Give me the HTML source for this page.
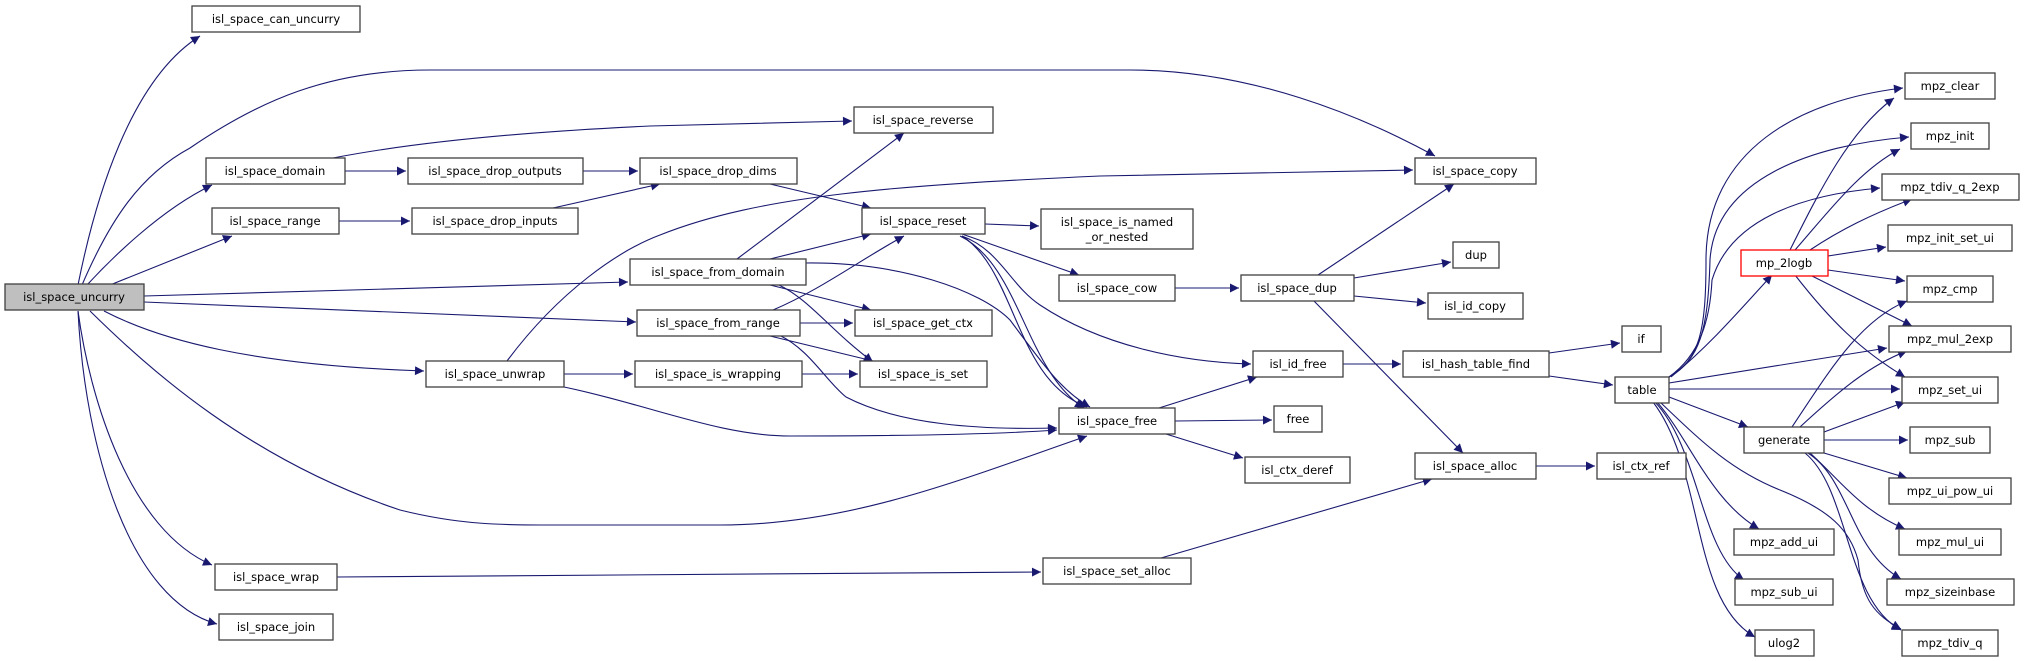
<!DOCTYPE html>
<html><head><meta charset="utf-8"><style>
html,body{margin:0;padding:0;background:#fff;}
svg{display:block;}
text{font-family:"DejaVu Sans","Liberation Sans",sans-serif;font-size:11.5px;fill:#000;text-anchor:middle;}
.n{fill:#fff;stroke:#404040;stroke-width:1.3;}
.e{fill:none;stroke:#191970;stroke-width:1.1;marker-end:url(#a);}
</style></head><body>
<svg width="2024" height="661" viewBox="0 0 2024 661" xmlns="http://www.w3.org/2000/svg">
<defs><marker id="a" viewBox="0 0 10 10" refX="10" refY="5" markerWidth="11" markerHeight="9" markerUnits="userSpaceOnUse" orient="auto"><path d="M0,0 L10,5 L0,10 z" fill="#191970"/></marker></defs>
<g>
<path class="e" d="M78,285 C95,200 130,80 200,36"/>
<path class="e" d="M82,285 C110,220 140,175 190,148 C260,100 330,70 430,70 L1130,70 C1250,70 1360,115 1435,156"/>
<path class="e" d="M87,285 C110,260 160,210 212,185"/>
<path class="e" d="M110,285 L232,236"/>
<path class="e" d="M144,296 L628,282"/>
<path class="e" d="M144,302 L636,322"/>
<path class="e" d="M104,311 C160,340 250,365 424,371"/>
<path class="e" d="M90,311 C150,370 250,460 400,510 C460,525 500,525 560,525 L720,525 C850,525 960,480 1087,436"/>
<path class="e" d="M78,311 C90,400 130,530 212,565"/>
<path class="e" d="M78,311 C85,450 130,600 217,624"/>
<path class="e" d="M345,171 L406,171"/>
<path class="e" d="M333,158 C400,145 500,133 650,126 L852,121"/>
<path class="e" d="M583,171 L638,171"/>
<path class="e" d="M553,208 L660,184"/>
<path class="e" d="M339,221 L410,221"/>
<path class="e" d="M770,184 L871,208"/>
<path class="e" d="M507,361 C560,290 620,250 660,235 C760,195 900,185 1100,176 L1413,170"/>
<path class="e" d="M564,374 L633,374"/>
<path class="e" d="M564,387 C650,405 720,436 790,436 C900,436 1000,434 1057,430"/>
<path class="e" d="M737,259 L904,133"/>
<path class="e" d="M770,259 L871,234"/>
<path class="e" d="M770,285 L871,310"/>
<path class="e" d="M779,285 C810,300 830,330 873,362"/>
<path class="e" d="M806,263 C900,262 980,290 1010,320 C1040,360 1060,390 1090,407"/>
<path class="e" d="M773,310 C820,290 860,260 904,236"/>
<path class="e" d="M800,323 L853,323"/>
<path class="e" d="M770,336 L873,361"/>
<path class="e" d="M779,335 C810,350 825,380 846,397 C900,425 980,430 1057,428"/>
<path class="e" d="M802,374 L858,374"/>
<path class="e" d="M985,224 L1039,226"/>
<path class="e" d="M962,234 L1079,275"/>
<path class="e" d="M962,236 C1016,270 1015,380 1087,407"/>
<path class="e" d="M960,236 C1020,265 1025,370 1084,408"/>
<path class="e" d="M962,236 C1000,250 1010,285 1040,305 C1100,345 1180,362 1251,364"/>
<path class="e" d="M1175,288 L1239,288"/>
<path class="e" d="M1318,275 L1454,184"/>
<path class="e" d="M1354,278 L1451,262"/>
<path class="e" d="M1354,296 L1426,303"/>
<path class="e" d="M1313,300 L1463,453"/>
<path class="e" d="M1343,364 L1401,364"/>
<path class="e" d="M1159,408 L1257,377"/>
<path class="e" d="M1175,421 L1272,420"/>
<path class="e" d="M1166,434 L1243,458"/>
<path class="e" d="M1161,558 L1432,479"/>
<path class="e" d="M337,577 L1041,572"/>
<path class="e" d="M1536,466 L1595,466"/>
<path class="e" d="M1549,353 L1620,343"/>
<path class="e" d="M1549,376 L1613,385"/>
<path class="e" d="M1671,377 C1710,345 1740,310 1772,275"/>
<path class="e" d="M1669,377 C1700,360 1706,330 1706,260 C1706,150 1800,100 1903,88"/>
<path class="e" d="M1669,377 C1700,360 1708,330 1710,260 C1715,180 1810,145 1909,137"/>
<path class="e" d="M1669,377 C1700,355 1710,320 1712,280 C1730,220 1800,195 1880,188"/>
<path class="e" d="M1669,383 L1887,348"/>
<path class="e" d="M1669,389 L1900,389"/>
<path class="e" d="M1669,397 L1748,427"/>
<path class="e" d="M1657,402 C1690,440 1710,500 1759,529"/>
<path class="e" d="M1655,402 C1700,450 1700,550 1744,580"/>
<path class="e" d="M1653,402 C1705,470 1690,600 1755,637"/>
<path class="e" d="M1660,402 C1700,440 1730,470 1780,490 C1830,510 1850,530 1858,560 C1862,600 1875,615 1901,629"/>
<path class="e" d="M1790,250 C1820,190 1850,130 1894,98"/>
<path class="e" d="M1795,250 C1830,210 1860,170 1900,149"/>
<path class="e" d="M1810,250 C1840,230 1870,215 1912,199"/>
<path class="e" d="M1828,256 L1886,247"/>
<path class="e" d="M1828,270 L1905,281"/>
<path class="e" d="M1810,275 L1912,326"/>
<path class="e" d="M1795,275 C1830,320 1860,350 1905,377"/>
<path class="e" d="M1792,427 C1830,370 1860,320 1907,301"/>
<path class="e" d="M1800,427 C1840,390 1870,365 1907,351"/>
<path class="e" d="M1824,432 L1905,402"/>
<path class="e" d="M1824,440 L1908,440"/>
<path class="e" d="M1824,453 L1907,478"/>
<path class="e" d="M1810,453 C1840,480 1860,510 1905,529"/>
<path class="e" d="M1808,453 C1850,480 1850,550 1901,579"/>
<path class="e" d="M1805,453 C1850,490 1845,600 1901,630"/>
</g>
<g>
<rect x="5" y="284" width="139" height="26" fill="#bfbfbf" stroke="#404040" stroke-width="1.3"/><text x="74" y="301">isl_space_uncurry</text>
<rect class="n" x="192" y="6" width="168" height="26"/><text x="276" y="23">isl_space_can_uncurry</text>
<rect class="n" x="206" y="158" width="139" height="26"/><text x="275" y="175">isl_space_domain</text>
<rect class="n" x="408" y="158" width="175" height="26"/><text x="495" y="175">isl_space_drop_outputs</text>
<rect class="n" x="640" y="158" width="157" height="26"/><text x="718" y="175">isl_space_drop_dims</text>
<rect class="n" x="212" y="208" width="127" height="26"/><text x="275" y="225">isl_space_range</text>
<rect class="n" x="412" y="208" width="166" height="26"/><text x="495" y="225">isl_space_drop_inputs</text>
<rect class="n" x="630" y="259" width="176" height="26"/><text x="718" y="276">isl_space_from_domain</text>
<rect class="n" x="637" y="310" width="163" height="26"/><text x="718" y="327">isl_space_from_range</text>
<rect class="n" x="426" y="361" width="138" height="26"/><text x="495" y="378">isl_space_unwrap</text>
<rect class="n" x="635" y="361" width="167" height="26"/><text x="718" y="378">isl_space_is_wrapping</text>
<rect class="n" x="215" y="564" width="122" height="26"/><text x="276" y="581">isl_space_wrap</text>
<rect class="n" x="219" y="614" width="114" height="26"/><text x="276" y="631">isl_space_join</text>
<rect class="n" x="854" y="107" width="139" height="26"/><text x="923" y="124">isl_space_reverse</text>
<rect class="n" x="862" y="208" width="123" height="26"/><text x="923" y="225">isl_space_reset</text>
<rect class="n" x="1041" y="209" width="152" height="40"/><text x="1117" y="226">isl_space_is_named</text><text x="1117" y="241">_or_nested</text>
<rect class="n" x="1059" y="275" width="116" height="26"/><text x="1117" y="292">isl_space_cow</text>
<rect class="n" x="1241" y="275" width="113" height="26"/><text x="1297" y="292">isl_space_dup</text>
<rect class="n" x="855" y="310" width="137" height="26"/><text x="923" y="327">isl_space_get_ctx</text>
<rect class="n" x="860" y="361" width="127" height="26"/><text x="923" y="378">isl_space_is_set</text>
<rect class="n" x="1253" y="351" width="90" height="26"/><text x="1298" y="368">isl_id_free</text>
<rect class="n" x="1059" y="408" width="116" height="26"/><text x="1117" y="425">isl_space_free</text>
<rect class="n" x="1274" y="406" width="48" height="26"/><text x="1298" y="423">free</text>
<rect class="n" x="1245" y="457" width="105" height="26"/><text x="1297" y="474">isl_ctx_deref</text>
<rect class="n" x="1043" y="558" width="148" height="26"/><text x="1117" y="575">isl_space_set_alloc</text>
<rect class="n" x="1415" y="158" width="121" height="26"/><text x="1475" y="175">isl_space_copy</text>
<rect class="n" x="1453" y="242" width="46" height="26"/><text x="1476" y="259">dup</text>
<rect class="n" x="1428" y="293" width="95" height="26"/><text x="1475" y="310">isl_id_copy</text>
<rect class="n" x="1403" y="351" width="146" height="26"/><text x="1476" y="368">isl_hash_table_find</text>
<rect class="n" x="1622" y="326" width="39" height="26"/><text x="1641" y="343">if</text>
<rect class="n" x="1615" y="377" width="54" height="26"/><text x="1642" y="394">table</text>
<rect class="n" x="1415" y="453" width="121" height="26"/><text x="1475" y="470">isl_space_alloc</text>
<rect class="n" x="1597" y="453" width="89" height="26"/><text x="1641" y="470">isl_ctx_ref</text>
<rect x="1741" y="250" width="87" height="26" fill="#fff" stroke="#ff0000" stroke-width="1.3"/><text x="1784" y="267">mp_2logb</text>
<rect class="n" x="1744" y="427" width="80" height="26"/><text x="1784" y="444">generate</text>
<rect class="n" x="1734" y="529" width="100" height="26"/><text x="1784" y="546">mpz_add_ui</text>
<rect class="n" x="1735" y="579" width="98" height="26"/><text x="1784" y="596">mpz_sub_ui</text>
<rect class="n" x="1755" y="630" width="59" height="26"/><text x="1784" y="647">ulog2</text>
<rect class="n" x="1905" y="73" width="90" height="26"/><text x="1950" y="90">mpz_clear</text>
<rect class="n" x="1911" y="123" width="78" height="26"/><text x="1950" y="140">mpz_init</text>
<rect class="n" x="1882" y="174" width="137" height="26"/><text x="1950" y="191">mpz_tdiv_q_2exp</text>
<rect class="n" x="1888" y="225" width="124" height="26"/><text x="1950" y="242">mpz_init_set_ui</text>
<rect class="n" x="1907" y="276" width="86" height="26"/><text x="1950" y="293">mpz_cmp</text>
<rect class="n" x="1889" y="326" width="122" height="26"/><text x="1950" y="343">mpz_mul_2exp</text>
<rect class="n" x="1902" y="377" width="96" height="26"/><text x="1950" y="394">mpz_set_ui</text>
<rect class="n" x="1910" y="427" width="80" height="26"/><text x="1950" y="444">mpz_sub</text>
<rect class="n" x="1889" y="478" width="122" height="26"/><text x="1950" y="495">mpz_ui_pow_ui</text>
<rect class="n" x="1899" y="529" width="102" height="26"/><text x="1950" y="546">mpz_mul_ui</text>
<rect class="n" x="1887" y="579" width="127" height="26"/><text x="1950" y="596">mpz_sizeinbase</text>
<rect class="n" x="1902" y="630" width="96" height="26"/><text x="1950" y="647">mpz_tdiv_q</text>
</g>
</svg>
</body></html>
